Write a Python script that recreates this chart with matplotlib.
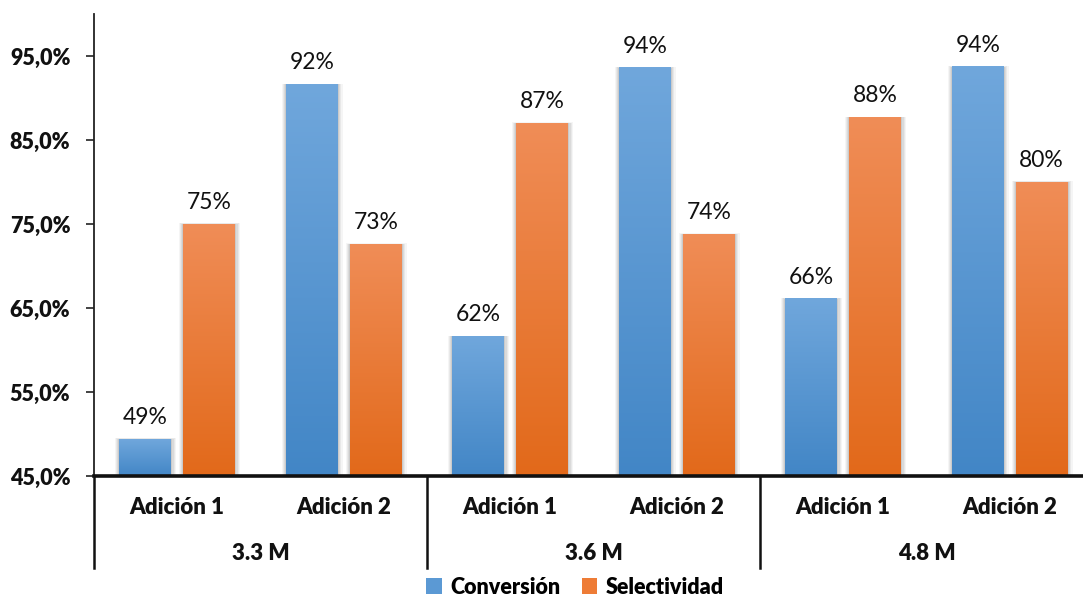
import numpy as np
import matplotlib
matplotlib.use("Agg")
import matplotlib.pyplot as plt
from matplotlib.colors import LinearSegmentedColormap
from matplotlib.patches import Rectangle, Patch
from matplotlib.transforms import blended_transform_factory

plt.rcParams['font.family'] = ['Lato', 'DejaVu Sans']

# Data
groups = ["3.3 M", "3.6 M", "4.8 M"]
additions = ["Adición 1", "Adición 2"]
series_names = ["Conversión", "Selectividad"]
conversion = [49.4, 91.6, 61.6, 93.6, 66.1, 93.7]
selectivity = [75.0, 72.6, 87.0, 73.8, 87.7, 80.0]
y_ticks = [45, 55, 65, 75, 85, 95]

# Gradient colours (top, bottom) per series
grad = {
    "Conversión": ("#70a7dc", "#4286c6"),
    "Selectividad": ("#f08d57", "#e2691a"),
}
legend_colors = {"Conversión": "#5b99d4", "Selectividad": "#ee7c36"}

BOLD = "heavy"

W, H = 1083, 597
fig = plt.figure(figsize=(W / 100, H / 100), dpi=100)
ax = fig.add_axes([94 / W, 1 - 476 / H, 999 / W, 462 / H])

ymin, ymax = 45, 100
n = len(conversion)
x = np.arange(n)
bar_w = 0.312
offset = 0.192


def gradient_bar(xc, val, colors):
    x0, x1 = xc - bar_w / 2, xc + bar_w / 2
    # soft shadow around the bar
    for k, a in zip([0.030, 0.022, 0.014, 0.007], [0.04, 0.05, 0.06, 0.07]):
        ax.add_patch(Rectangle((x0 - k * 0.8, ymin), (x1 - x0) + k * 1.8,
                               val - ymin + k * 3, facecolor="#000000",
                               edgecolor="none", alpha=a, zorder=1))
    cmap = LinearSegmentedColormap.from_list("g", [colors[1], colors[0]])
    img = np.linspace(0, 1, 256).reshape(-1, 1)
    ax.imshow(img, extent=[x0, x1, ymin, val], origin="lower", cmap=cmap,
              aspect="auto", zorder=2, interpolation="bilinear")
    ax.annotate(f"{val:.0f}%", (xc, val), xytext=(0, 8),
                textcoords="offset points", ha="center", va="bottom",
                fontsize=16.5, color="#111111", zorder=3)


for i in range(n):
    gradient_bar(x[i] - offset, conversion[i], grad["Conversión"])
    gradient_bar(x[i] + offset, selectivity[i], grad["Selectividad"])

ax.set_xlim(-0.5, n - 0.5)
ax.set_ylim(ymin, ymax)
ax.set_yticks(y_ticks)
ax.set_yticklabels([f"{t:.1f}%".replace(".", ",") for t in y_ticks],
                   fontsize=15.5, fontweight=BOLD, color="#111111")
ax.tick_params(axis="y", length=6, width=1.2, pad=11, color="#222222")
ax.set_xticks([])

for s in ["top", "right"]:
    ax.spines[s].set_visible(False)
ax.spines["left"].set_linewidth(1.3)
ax.spines["left"].set_color("#222222")
ax.spines["bottom"].set_linewidth(2.6)
ax.spines["bottom"].set_color("#111111")
ax.spines["bottom"].set_zorder(5)

# Two-level category axis
tr = blended_transform_factory(ax.transData, ax.transAxes)
for i in range(n):
    ax.text(x[i], -0.069, additions[i % 2], transform=tr, ha="center",
            va="center", fontsize=16, fontweight=BOLD, color="#111111")
for g, name in enumerate(groups):
    ax.text(2 * g + 0.5, -0.167, name, transform=tr, ha="center",
            va="center", fontsize=16, fontweight=BOLD, color="#111111")
for sep in [-0.5, 1.5, 3.5, 5.5]:
    ax.plot([sep, sep], [0, -0.199], transform=tr, color="#111111",
            lw=1.8, clip_on=False, zorder=5)

handles = [Patch(facecolor=legend_colors[s], edgecolor="none") for s in series_names]
leg = fig.legend(handles, series_names, loc="center",
                 bbox_to_anchor=(575 / W, 1 - 587 / H), ncol=2, frameon=False,
                 handlelength=0.7, handleheight=0.7, handletextpad=0.4,
                 columnspacing=1.0, prop={"weight": BOLD, "size": 15.5})

fig.savefig("out.png", dpi=100)
